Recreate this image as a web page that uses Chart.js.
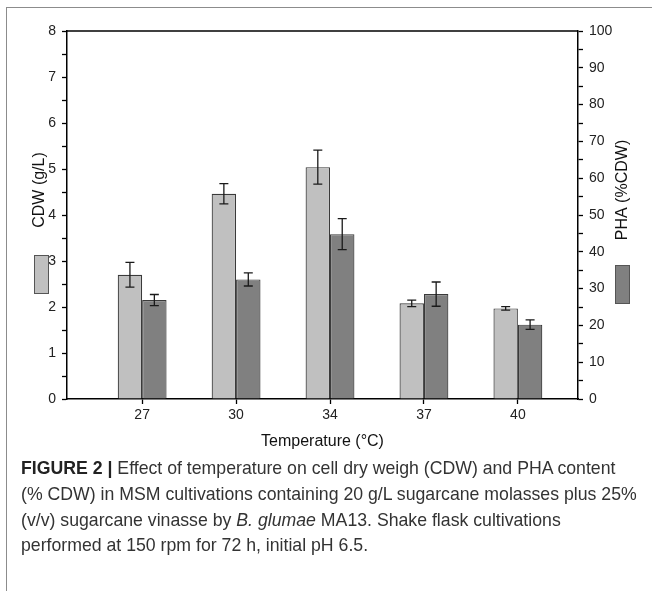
<!DOCTYPE html>
<html>
<head>
<meta charset="utf-8">
<script src="https://cdn.jsdelivr.net/npm/chart.js@4.4.1/dist/chart.umd.min.js"></script>
<style>
  body { margin: 0; background: #fff; width: 652px; height: 591px; overflow: hidden; position: relative; font-family: "Liberation Sans", Arial, sans-serif; }
  #frame { position: absolute; left: 6px; top: 7px; width: 700px; height: 700px; border-left: 1.5px solid #8c8c8c; border-top: 1.5px solid #8c8c8c; }
  #chart { position: absolute; left: 0; top: 0; }
  #caption { position: absolute; left: 21px; top: 456px; font-size: 17.7px; line-height: 25.8px; color: #333; white-space: nowrap; }
  #caption b { color: #222; }
</style>
</head>
<body>
<div id="frame"></div>
<canvas id="chart" width="652" height="460"></canvas>
<div id="caption"><b>FIGURE 2 |</b> Effect of temperature on cell dry weigh (CDW) and PHA content<br>(% CDW) in MSM cultivations containing 20 g/L sugarcane molasses plus 25%<br>(v/v) sugarcane vinasse by <i>B. glumae</i> MA13. Shake flask cultivations<br>performed at 150 rpm for 72 h, initial pH 6.5.</div>
<script>
// Data
var temperatures = ["27", "30", "34", "37", "40"];
var cdwValues = [2.70, 4.46, 5.04, 2.08, 1.97]; // g/L, left axis
var cdwErrors = [0.27, 0.22, 0.37, 0.07, 0.04];
var phaValues = [26.9, 32.5, 44.8, 28.5, 20.2]; // %CDW, right axis
var phaErrors = [1.5, 1.8, 4.2, 3.3, 1.3];

var lightGrey = "#c0c0c0";
var darkGrey = "#808080";

function toPoints(values) {
  return values.map(function (v, i) { return { x: i, y: v }; });
}

// error bars drawn on top of the bars, using each dataset's own y scale
var errorBarPlugin = {
  id: "errorBars",
  afterDatasetsDraw: function (chart) {
    var ctx = chart.ctx;
    ctx.save();
    ctx.strokeStyle = "#1a1a1a";
    ctx.lineWidth = 1.3;
    chart.data.datasets.forEach(function (ds, di) {
      var meta = chart.getDatasetMeta(di);
      var yScale = chart.scales[meta.yAxisID];
      meta.data.forEach(function (bar, i) {
        var v = ds.data[i].y, e = ds.errors[i];
        var yTop = yScale.getPixelForValue(v + e);
        var yBot = yScale.getPixelForValue(v - e);
        var x = bar.x, cap = 4.5;
        ctx.beginPath();
        ctx.moveTo(x, yTop); ctx.lineTo(x, yBot);
        ctx.moveTo(x - cap, yTop); ctx.lineTo(x + cap, yTop);
        ctx.moveTo(x - cap, yBot); ctx.lineTo(x + cap, yBot);
        ctx.stroke();
      });
    });
    ctx.restore();
  }
};

// top frame line + rotated axis titles with their legend swatches
var axisLegendPlugin = {
  id: "axisLegend",
  afterDraw: function (chart) {
    var ctx = chart.ctx, a = chart.chartArea;
    ctx.save();
    ctx.strokeStyle = "#000";
    ctx.lineWidth = 1.5;
    ctx.beginPath();
    ctx.moveTo(a.left, a.top); ctx.lineTo(a.right, a.top);
    ctx.stroke();

    ctx.fillStyle = "#111";
    ctx.font = "16px 'Liberation Sans', Arial, sans-serif";
    ctx.textAlign = "center";
    ctx.textBaseline = "middle";
    [[40, 190, "CDW (g/L)"], [623, 190, "PHA (%CDW)"]].forEach(function (t) {
      ctx.save();
      ctx.translate(t[0], t[1]);
      ctx.rotate(-Math.PI / 2);
      ctx.fillText(t[2], 0, 0);
      ctx.restore();
    });

    ctx.lineWidth = 1;
    ctx.strokeStyle = "#555";
    ctx.fillStyle = lightGrey;
    ctx.fillRect(34.5, 255.5, 14, 38); ctx.strokeRect(34.5, 255.5, 14, 38);
    ctx.fillStyle = darkGrey;
    ctx.fillRect(615.5, 265.5, 14, 38); ctx.strokeRect(615.5, 265.5, 14, 38);
    ctx.restore();
  }
};

var tickFont = { family: "'Liberation Sans', Arial, sans-serif", size: 14 };

new Chart(document.getElementById("chart").getContext("2d"), {
  type: "bar",
  data: {
    datasets: [
      {
        label: "CDW (g/L)",
        data: toPoints(cdwValues),
        errors: cdwErrors,
        yAxisID: "y",
        backgroundColor: lightGrey,
        borderColor: "#3a3a3a",
        borderWidth: 1.2,
        categoryPercentage: 0.52,
        barPercentage: 1.0
      },
      {
        label: "PHA (%CDW)",
        data: toPoints(phaValues),
        errors: phaErrors,
        yAxisID: "y1",
        backgroundColor: darkGrey,
        borderColor: "#3a3a3a",
        borderWidth: 1.2,
        categoryPercentage: 0.52,
        barPercentage: 1.0
      }
    ]
  },
  options: {
    responsive: false,
    animation: false,
    layout: { padding: { top: 31, left: 0, right: 0, bottom: 0 } },
    plugins: { legend: { display: false }, tooltip: { enabled: false } },
    scales: {
      x: {
        type: "linear",
        min: -0.8,
        max: 4.64,
        offset: false,
        afterBuildTicks: function (scale) {
          scale.ticks = temperatures.map(function (t, i) { return { value: i }; });
        },
        afterFit: function (scale) { scale.height = 61; },
        ticks: {
          color: "#222",
          font: tickFont,
          padding: 3,
          callback: function (value) { return temperatures[value]; }
        },
        grid: { offset: false, drawOnChartArea: false, tickLength: 5, tickColor: "#000", tickWidth: 1.3 },
        border: { display: true, color: "#000", width: 1.5 },
        title: {
          display: true,
          text: "Temperature (°C)",
          color: "#111",
          font: { family: "'Liberation Sans', Arial, sans-serif", size: 16 },
          padding: { top: 0, bottom: 9 }
        }
      },
      y: {
        position: "left",
        min: 0,
        max: 8,
        afterFit: function (scale) { scale.width = 67; },
        ticks: {
          stepSize: 0.5,
          autoSkip: false,
          color: "#222",
          font: tickFont,
          padding: 6,
          callback: function (v) { return Number.isInteger(v) ? v : ""; }
        },
        grid: { drawOnChartArea: false, tickLength: 5, tickColor: "#000", tickWidth: 1.3 },
        border: { display: true, color: "#000", width: 1.5 }
      },
      y1: {
        position: "right",
        min: 0,
        max: 100,
        afterFit: function (scale) { scale.width = 74; },
        ticks: {
          stepSize: 5,
          autoSkip: false,
          color: "#222",
          font: tickFont,
          padding: 6,
          callback: function (v) { return v % 10 === 0 ? v : ""; }
        },
        grid: { drawOnChartArea: false, tickLength: 5, tickColor: "#000", tickWidth: 1.3 },
        border: { display: true, color: "#000", width: 1.5 }
      }
    }
  },
  plugins: [errorBarPlugin, axisLegendPlugin]
});
</script>
</body>
</html>
